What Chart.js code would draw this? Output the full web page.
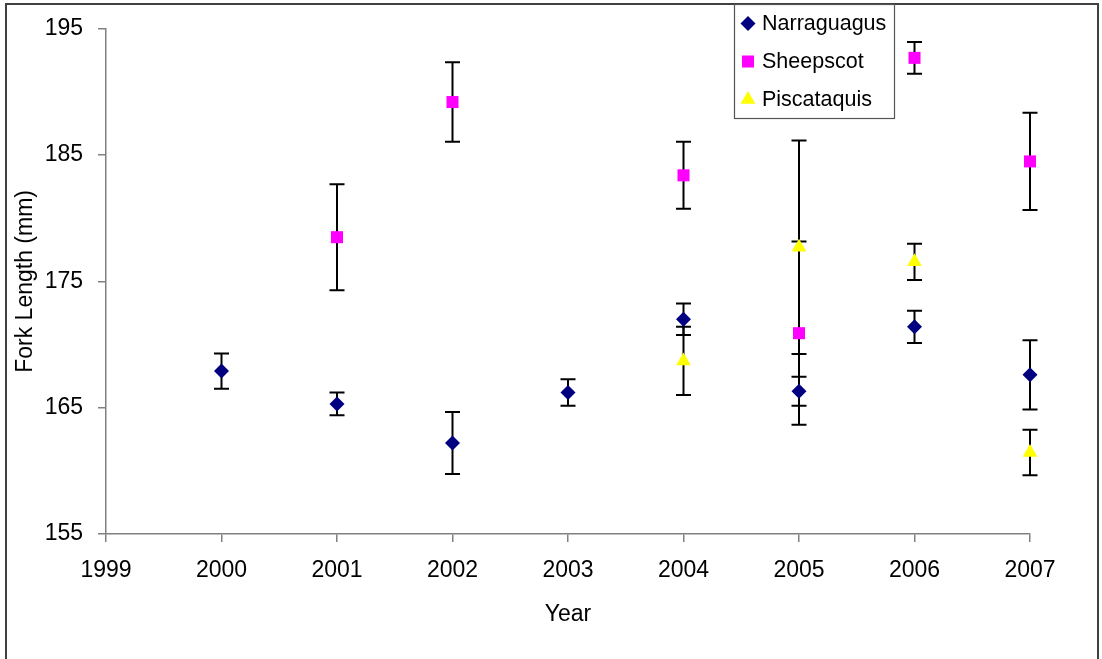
<!DOCTYPE html>
<html>
<head>
<meta charset="utf-8">
<title>Fork Length by Year</title>
<script src="https://cdn.jsdelivr.net/npm/chart.js@4.4.1/dist/chart.umd.min.js"></script>
<style>
  html, body { margin: 0; padding: 0; background: #fff; }
  #wrap { width: 1102px; height: 659px; }
</style>
</head>
<body>
<div id="wrap"><canvas id="forkChart" width="1102" height="659"></canvas></div>
<script>
var years = [2000, 2001, 2002, 2003, 2004, 2005, 2006, 2007]
var yTicks = [155, 165, 175, 185, 195]

var narraguagus = [167.9, 165.3, 162.2, 166.2, 172.0, 166.3, 171.4, 167.6]
var narraguagusErr = [1.4, 0.9, 2.45, 1.05, 1.25, 1.15, 1.27, 2.75]

var sheepscot = [null, 178.5, 189.2, null, 183.4, 170.9, 192.7, 184.5]
var sheepscotErr = [null, 4.2, 3.15, null, 2.65, 7.25, 1.25, 3.85]

var piscataquis = [null, null, null, null, 168.7, 177.7, 176.55, 161.45]
var piscataquisErr = [null, null, null, null, 2.7, 8.45, 1.43, 1.8]

var FONT = "'Liberation Sans', Arial, sans-serif"

function toPoints (vals) {
  var out = []
  vals.forEach(function (v, i) {
    if (v !== null) out.push({ x: years[i], y: v })
  })
  return out
}
function toErrs (vals, errs) {
  var out = []
  vals.forEach(function (v, i) {
    if (v !== null) out.push(errs[i])
  })
  return out
}

// error bars, drawn under the markers
var errorBars = {
  id: 'errorBars',
  beforeDatasetsDraw: function (chart) {
    var c = chart.ctx
    var xs = chart.scales.x, ys = chart.scales.y
    c.save()
    c.strokeStyle = '#000'
    c.lineWidth = 2
    chart.data.datasets.forEach(function (ds) {
      ds.data.forEach(function (p, i) {
        var e = ds.errors[i]
        var x = xs.getPixelForValue(p.x)
        var yt = ys.getPixelForValue(p.y + e)
        var yb = ys.getPixelForValue(p.y - e)
        c.beginPath()
        c.moveTo(x, yt); c.lineTo(x, yb)
        c.moveTo(x - 7.5, yt); c.lineTo(x + 7.5, yt)
        c.moveTo(x - 7.5, yb); c.lineTo(x + 7.5, yb)
        c.stroke()
      })
    })
    c.restore()
  }
}

// outer frame and the boxed legend in the top right
var frameLegend = {
  id: 'frameLegend',
  afterDraw: function (chart) {
    var c = chart.ctx
    c.save()
    c.strokeStyle = '#404040'
    c.lineWidth = 2
    c.strokeRect(6, 4, 1092, 700)

    var bx = 734, by = 4, bw = 160, bh = 114
    c.fillStyle = '#fff'
    c.fillRect(bx, by, bw, bh)
    c.strokeStyle = '#555'
    c.lineWidth = 1.2
    c.strokeRect(bx + 0.5, by + 0.5, bw, bh)

    c.font = '21.5px ' + FONT
    c.textBaseline = 'middle'
    c.textAlign = 'left'
    chart.data.datasets.forEach(function (ds, i) {
      var y = 23.5 + i * 38
      var opts = {
        pointStyle: ds.pointStyle,
        radius: ds.pointRadius,
        rotation: 0,
        borderWidth: 0
      }
      c.fillStyle = ds.backgroundColor
      c.strokeStyle = ds.backgroundColor
      if (Chart.helpers && Chart.helpers.drawPoint) {
        Chart.helpers.drawPoint(c, opts, 748, y)
      }
      c.fillStyle = '#000'
      c.fillText(ds.label, 762, y + 1)
    })
    c.restore()
  }
}

var ctx = document.getElementById('forkChart')
var chart = new Chart(ctx, {
  type: 'scatter',
  data: {
    datasets: [
      {
        label: 'Narraguagus',
        data: toPoints(narraguagus),
        errors: toErrs(narraguagus, narraguagusErr),
        pointStyle: 'rectRot',
        pointRadius: 7.5,
        backgroundColor: '#000080',
        borderColor: '#000080',
        borderWidth: 0,
        clip: false
      },
      {
        label: 'Sheepscot',
        data: toPoints(sheepscot),
        errors: toErrs(sheepscot, sheepscotErr),
        pointStyle: 'rect',
        pointRadius: 8.5,
        backgroundColor: '#ff00ff',
        borderColor: '#ff00ff',
        borderWidth: 0,
        clip: false
      },
      {
        label: 'Piscataquis',
        data: toPoints(piscataquis),
        errors: toErrs(piscataquis, piscataquisErr),
        pointStyle: 'triangle',
        pointRadius: 8.5,
        backgroundColor: '#ffff00',
        borderColor: '#ffff00',
        borderWidth: 0,
        clip: false
      }
    ]
  },
  options: {
    responsive: false,
    animation: false,
    layout: { padding: { top: 25, right: 72, bottom: 0, left: 0 } },
    plugins: {
      legend: { display: false },
      tooltip: { enabled: false }
    },
    scales: {
      x: {
        type: 'linear',
        min: 1999,
        max: 2007,
        afterFit: function (s) { s.height = 125 },
        afterBuildTicks: function (s) {
          s.ticks = [1999].concat(years).map(function (v) { return { value: v } })
        },
        ticks: {
          color: '#000',
          font: { family: FONT, size: 23 },
          padding: 15,
          maxRotation: 0,
          callback: function (v) { return String(v) }
        },
        grid: { drawOnChartArea: false, drawTicks: true, tickLength: 8, color: '#808080', lineWidth: 1.5 },
        border: { color: '#808080', width: 1.5 },
        title: {
          display: true,
          text: 'Year',
          color: '#000',
          font: { family: FONT, size: 23 },
          padding: { top: 0, bottom: 31 }
        }
      },
      y: {
        min: 155,
        max: 195,
        afterFit: function (s) { s.width = 106 },
        afterBuildTicks: function (s) {
          s.ticks = yTicks.map(function (v) { return { value: v } })
        },
        ticks: {
          color: '#000',
          font: { family: FONT, size: 23 },
          padding: 15
        },
        grid: { drawOnChartArea: false, drawTicks: true, tickLength: 8, color: '#808080', lineWidth: 1.5 },
        border: { color: '#808080', width: 1.5 },
        title: {
          display: true,
          text: 'Fork Length (mm)',
          color: '#000',
          font: { family: FONT, size: 23 },
          padding: { top: 12, bottom: 0 }
        }
      }
    }
  },
  plugins: [errorBars, frameLegend]
})
</script>
</body>
</html>
